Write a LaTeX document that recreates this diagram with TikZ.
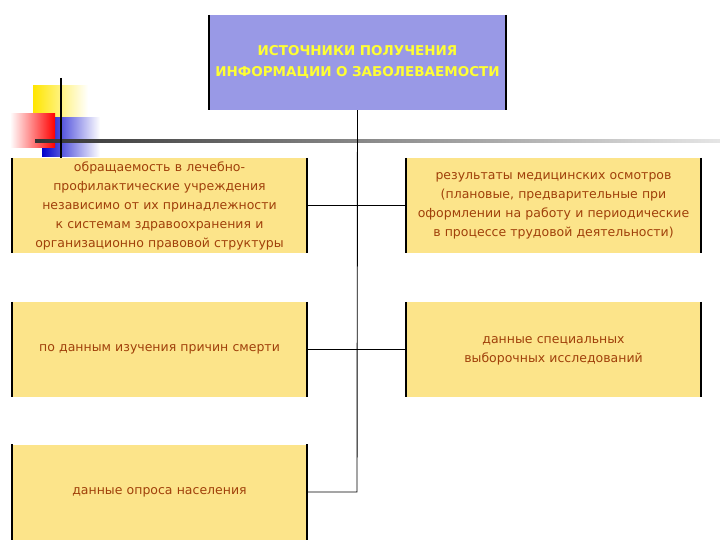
\documentclass[tikz,border=0pt]{standalone}
\usepackage{fontspec}
\setmainfont{DejaVu Sans}
\usetikzlibrary{shadings}
\definecolor{boxy}{HTML}{FCE48A}
\definecolor{txt}{HTML}{A0400A}
\definecolor{lav}{HTML}{9999E6}
\definecolor{ttl}{HTML}{FFFF33}
\begin{document}
\begin{tikzpicture}[x=1pt,y=-1pt,
  box/.style={fill=boxy,minimum width=295pt,minimum height=95pt,inner sep=2pt,text width=290pt,align=center,font=\fontsize{12.5}{19}\selectfont,text=txt},
  edge/.style={line width=2pt,black},
  conn/.style={line width=0.9pt,black}]
\useasboundingbox (0,0) rectangle (720,540);
% decoration
\shade[left color=yellow!80!orange,right color=white] (33,86) rectangle (88,131);
\shade[left color=blue!80!black,right color=white] (42,118) rectangle (100,157);
\shade[left color=white,right color=red] (10,114) rectangle (55,148);
\shade[left color=black!80,right color=black!10] (35,139.5) rectangle (720,143);
\draw[line width=2pt] (61,78) -- (61,160);
% title
\node[fill=lav,minimum width=295pt,minimum height=95pt,text width=290pt,align=center,font=\bfseries\fontsize{13.5}{21}\selectfont,text=ttl] (t) at (357.5,62.5) {ИСТОЧНИКИ ПОЛУЧЕНИЯ ИНФОРМАЦИИ О ЗАБОЛЕВАЕМОСТИ};
\draw[edge] (t.north west) -- (t.south west) (t.north east) -- (t.south east);
\node[box] (a) at (159.5,205.5) {обращаемость в лечебно-профилактические учреждения независимо от их принадлежности к системам здравоохранения и организационно правовой структуры};
\node[box] (b) at (159.5,349.5) {по данным изучения причин смерти};
\node[box] (c) at (159.5,492) {данные опроса населения};
\node[box] (d) at (553.5,205.5) {результаты медицинских осмотров (плановые, предварительные при оформлении на работу и периодические в процессе трудовой деятельности)};
\node[box,text depth=20pt] (e) at (553.5,349.5) {данные специальных выборочных исследований};
\foreach \n in {a,b,c,d,e}{\draw[edge] (\n.north west) -- (\n.south west) (\n.north east) -- (\n.south east);}
\coordinate (j) at (357,492);
\draw[conn] (t.south) -- (j) -- (c.east);
\draw[conn] (a.east) -- (d.west);
\draw[conn] (b.east) -- (e.west);
\end{tikzpicture}
\end{document}
